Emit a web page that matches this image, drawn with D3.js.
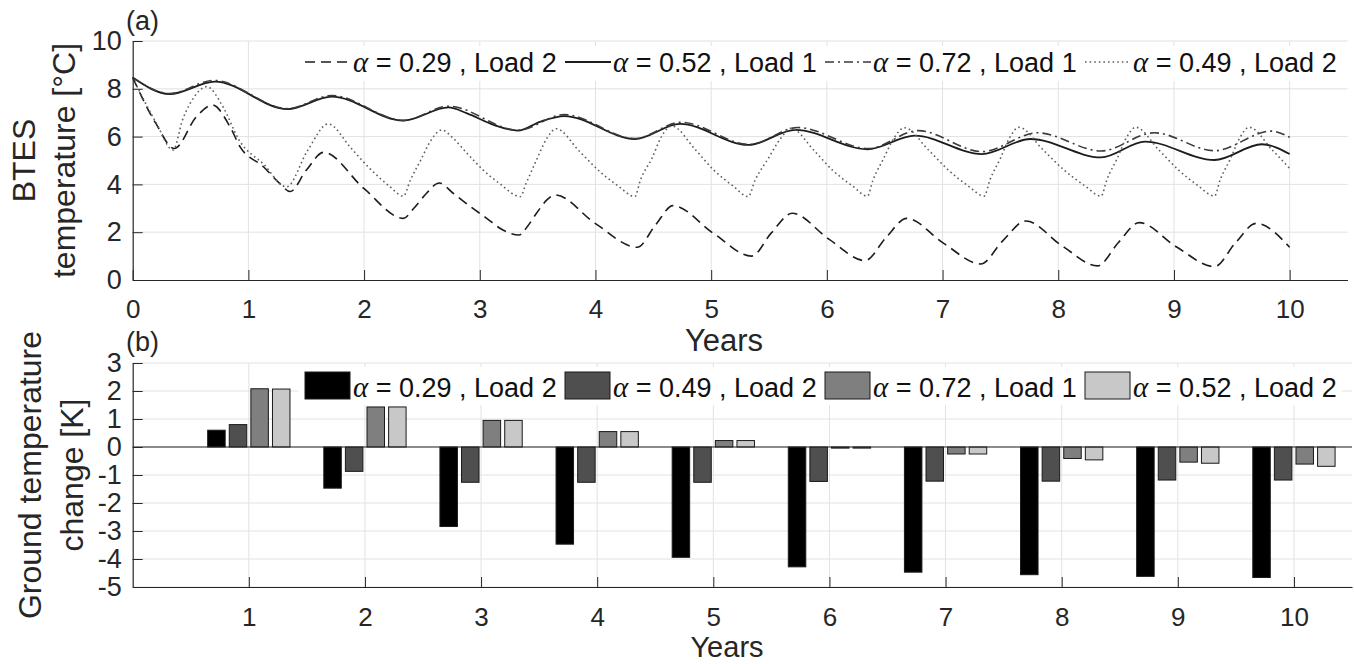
<!DOCTYPE html>
<html>
<head>
<meta charset="utf-8">
<script src="https://cdn.jsdelivr.net/npm/d3@7"></script>
<style>
  html, body { margin: 0; padding: 0; background: #ffffff; }
  svg { display: block; font-family: "Liberation Sans", Arial, sans-serif; }
</style>
</head>
<body>
<svg id="chart" width="1354" height="664"></svg>
<script>
// ---------- Panel (a): BTES temperature over ten years, [year, °C] ----------
const btesAlpha029Load2 = [
  [0, 8.47], [0.2, 6.55], [0.36, 5.5], [0.55, 6.83], [0.69, 7.32],
  [0.84, 6.42], [0.93, 5.56], [1.13, 4.74], [1.27, 4.04], [1.36, 3.7],
  [1.5, 4.59], [1.65, 5.34], [2.0, 3.82], [2.34, 2.58], [2.43, 3.0], [2.54, 3.63],
  [2.65, 4.06], [2.77, 3.63], [2.92, 3.07], [3.06, 2.58], [3.2, 2.09], [3.34, 1.88],
  [3.41, 2.23], [3.49, 2.79], [3.58, 3.35], [3.65, 3.56], [4.0, 2.36], [4.36, 1.37],
  [4.52, 2.31], [4.67, 3.11], [5.02, 1.95], [5.35, 1.0], [5.52, 1.97], [5.7, 2.79],
  [6.02, 1.7], [6.33, 0.81], [6.51, 1.77], [6.69, 2.58], [7.01, 1.53], [7.33, 0.67],
  [7.52, 1.64], [7.72, 2.47], [8.03, 1.44], [8.34, 0.59], [8.52, 1.57], [8.7, 2.4],
  [9.02, 1.39], [9.35, 0.56], [9.53, 1.54], [9.71, 2.37], [10, 1.37]
];
const btesAlpha052Load1 = [
  [0, 8.47], [0.32, 7.78], [0.71, 8.3], [1.34, 7.15], [1.72, 7.67], [2.34, 6.67],
  [2.73, 7.22], [2.89, 6.97], [3.12, 6.49], [3.33, 6.25], [3.52, 6.62], [3.73, 6.86],
  [4.34, 5.9], [4.73, 6.53], [5.32, 5.65], [5.73, 6.28], [6.35, 5.47], [6.76, 6.04],
  [7.34, 5.27], [7.76, 5.9], [8.37, 5.13], [8.75, 5.79], [9.35, 5.02], [9.76, 5.68],
  [10, 5.27]
];
const btesAlpha072Load1 = [
  [0, 8.47], [0.32, 7.8], [0.7, 8.35], [1.34, 7.17], [1.72, 7.72], [2.34, 6.68],
  [2.73, 7.27], [3.33, 6.27], [3.73, 6.92], [4.34, 5.92], [4.74, 6.6], [5.33, 5.67],
  [5.75, 6.38], [6.36, 5.5], [6.79, 6.25], [7.34, 5.37], [7.82, 6.16], [8.37, 5.4],
  [8.83, 6.16], [9.35, 5.41], [9.84, 6.23], [10, 5.97]
];
const btesAlpha049Load2 = [
  [0, 8.47], [0.2, 6.6], [0.35, 5.44], [0.43, 6.69], [0.53, 7.65], [0.64, 8.09],
  [0.78, 7.25], [0.92, 5.85], [1.13, 4.85], [1.33, 3.9], [1.51, 5.4], [1.69, 6.53],
  [1.885, 5.53], [2.05, 4.66], [2.21, 3.96], [2.34, 3.51], [2.4, 4.18], [2.49, 5.02],
  [2.58, 5.86], [2.67, 6.28], [2.77, 5.93], [2.89, 5.3], [3.03, 4.6], [3.17, 4.04],
  [3.35, 3.49], [3.4, 4.04], [3.49, 5.02], [3.58, 5.93], [3.66, 6.33], [3.86, 5.39],
  [4.03, 4.57], [4.2, 3.92], [4.34, 3.49], [4.39, 4.2], [4.49, 5.11], [4.57, 6.0],
  [4.66, 6.44], [4.86, 5.47], [5.02, 4.61], [5.19, 3.93], [5.32, 3.49], [5.38, 4.18],
  [5.49, 5.06], [5.6, 5.92], [5.69, 6.35], [5.89, 5.41], [6.05, 4.59], [6.22, 3.94],
  [6.35, 3.51], [6.4, 4.2], [6.49, 5.08], [6.58, 5.94], [6.67, 6.37], [6.88, 5.43],
  [7.05, 4.6], [7.22, 3.94], [7.36, 3.51], [7.41, 4.2], [7.5, 5.09], [7.58, 5.96],
  [7.66, 6.39], [7.87, 5.44], [8.05, 4.6], [8.23, 3.94], [8.37, 3.51], [8.42, 4.2],
  [8.51, 5.09], [8.59, 5.96], [8.67, 6.39], [8.87, 5.44], [9.04, 4.6], [9.21, 3.94],
  [9.35, 3.51], [9.4, 4.2], [9.49, 5.09], [9.57, 5.96], [9.65, 6.39], [9.85, 5.44],
  [10, 4.67]
];

const lineLabels = ["0.29 , Load 2", "0.52 , Load 1", "0.72 , Load 1", "0.49 , Load 2"];
const yearTicksA = [0, 1, 2, 3, 4, 5, 6, 7, 8, 9, 10];
const tempTicks = [0, 2, 4, 6, 8, 10];

// ---------- Panel (b): ground temperature change per year [K] ----------
const barYears = [1, 2, 3, 4, 5, 6, 7, 8, 9, 10];
const changeAlpha029Load2 = [0.6, -1.47, -2.84, -3.47, -3.94, -4.28, -4.47, -4.56, -4.62, -4.66];
const changeAlpha049Load2 = [0.8, -0.87, -1.26, -1.26, -1.26, -1.23, -1.22, -1.22, -1.18, -1.18];
const changeAlpha072Load1 = [2.08, 1.43, 0.95, 0.55, 0.23, -0.04, -0.25, -0.41, -0.54, -0.61];
const changeAlpha052Load2 = [2.07, 1.43, 0.95, 0.55, 0.23, -0.04, -0.25, -0.46, -0.58, -0.69];
const barLabels = ["0.29 , Load 2", "0.49 , Load 2", "0.72 , Load 1", "0.52 , Load 2"];
const changeTicks = [3, 2, 1, 0, -1, -2, -3, -4, -5];

// ---------- shared styling ----------
const INK = "#262626";
const GRID = "#e2e2e2";
const TICK_FONT = 26;
const LABEL_FONT = 31;
const LEGEND_FONT = 27;

const svg = d3.select("#chart");

function styleAxis(g, size) {
  g.attr("font-family", null).attr("font-size", size).attr("color", INK);
  g.selectAll(".domain").attr("stroke-width", 1.2);
  g.selectAll(".tick line").attr("stroke-width", 1);
}

function legendAlpha(g, x, y, rest) {
  const t = g.append("text").attr("x", x).attr("y", y).attr("fill", "#111");
  t.append("tspan").attr("font-family", "'Liberation Serif', 'DejaVu Serif', serif")
    .attr("font-style", "italic").attr("font-size", 29).text("α");
  t.append("tspan").attr("font-size", LEGEND_FONT).text(" = " + rest);
}

// ================= Panel (a) =================
const xA = d3.scaleLinear().domain([0, 10.5]).range([132.7, 1347.5]);
const yA = d3.scaleLinear().domain([0, 10]).range([280, 41]);

const gridA = svg.append("g");
gridA.selectAll("line.v").data(yearTicksA.slice(1)).join("line")
  .attr("x1", d => xA(d)).attr("x2", d => xA(d))
  .attr("y1", yA(0)).attr("y2", yA(10)).attr("stroke", GRID);
gridA.selectAll("line.h").data(tempTicks.slice(1)).join("line")
  .attr("x1", xA(0)).attr("x2", xA(10.5))
  .attr("y1", d => yA(d)).attr("y2", d => yA(d)).attr("stroke", GRID);

const lineStyles = [
  { data: btesAlpha029Load2, color: "#1c1c1c", width: 1.6, dash: "10,6" },
  { data: btesAlpha052Load1, color: "#1c1c1c", width: 1.8, dash: null },
  { data: btesAlpha072Load1, color: "#3a3a3a", width: 1.6, dash: "9,4,2,4" },
  { data: btesAlpha049Load2, color: "#606060", width: 1.6, dash: "1.6,3" }
];

const lineGen = d3.line()
  .x(d => xA(d[0])).y(d => yA(d[1]))
  .curve(d3.curveMonotoneX);

svg.append("g").selectAll("path").data(lineStyles).join("path")
  .attr("d", s => lineGen(s.data))
  .attr("fill", "none")
  .attr("stroke", s => s.color)
  .attr("stroke-width", s => s.width)
  .attr("stroke-dasharray", s => s.dash);

const axA_x = svg.append("g").attr("transform", `translate(0,${yA(0)})`)
  .call(d3.axisBottom(xA).tickValues(yearTicksA).tickFormat(d3.format("d"))
    .tickSizeInner(-10).tickSizeOuter(0));
styleAxis(axA_x, TICK_FONT);
axA_x.selectAll("text").attr("y", 38).attr("dy", null);

const axA_y = svg.append("g").attr("transform", `translate(${xA(0)},0)`)
  .call(d3.axisLeft(yA).tickValues(tempTicks).tickFormat(d3.format("d"))
    .tickSizeInner(-10).tickSizeOuter(0).tickPadding(11));
styleAxis(axA_y, 27);

// legend (a)
const legA = svg.append("g");
legA.append("rect").attr("x", 298).attr("y", 46).attr("width", 1044).attr("height", 35).attr("fill", "#fff");
lineLabels.forEach((lab, i) => {
  const x0 = 305 + i * 260;
  const s = lineStyles[i];
  legA.append("line").attr("x1", x0).attr("x2", x0 + 46).attr("y1", 62).attr("y2", 62)
    .attr("stroke", s.color).attr("stroke-width", s.width).attr("stroke-dasharray", s.dash);
  legendAlpha(legA, x0 + 48, 72, lab);
});

svg.append("text").attr("x", 126).attr("y", 30).attr("font-size", 27).attr("fill", INK).text("(a)");
svg.append("text").attr("x", 724).attr("y", 351).attr("text-anchor", "middle")
  .attr("font-size", LABEL_FONT).attr("fill", INK).text("Years");
svg.append("text").attr("transform", "translate(35,160.5) rotate(-90)").attr("text-anchor", "middle")
  .attr("font-size", 32).attr("fill", INK).text("BTES");
svg.append("text").attr("transform", "translate(75,160.5) rotate(-90)").attr("text-anchor", "middle")
  .attr("font-size", 32).attr("fill", INK).text("temperature [°C]");

// ================= Panel (b) =================
const xB = d3.scaleLinear().domain([0, 10.5]).range([132.7, 1352]);
const yB = d3.scaleLinear().domain([-5, 3]).range([587, 363]);

const gridB = svg.append("g");
gridB.selectAll("line.v").data(barYears).join("line")
  .attr("x1", d => xB(d)).attr("x2", d => xB(d))
  .attr("y1", yB(-5)).attr("y2", yB(3)).attr("stroke", GRID);
gridB.selectAll("line.h").data(changeTicks).join("line")
  .attr("x1", xB(0)).attr("x2", xB(10.5))
  .attr("y1", d => yB(d)).attr("y2", d => yB(d)).attr("stroke", GRID);

// legend (b) background sits under the bars so the tallest bars stay whole
const legB = svg.append("g");
legB.append("rect").attr("x", 298).attr("y", 367).attr("width", 1044).attr("height", 38).attr("fill", "#fff");

const barSeries = [changeAlpha029Load2, changeAlpha049Load2, changeAlpha072Load1, changeAlpha052Load2];
const barColors = ["#000000", "#4f4f4f", "#7f7f7f", "#c8c8c8"];
const groupHalf = 0.372 * (xB(1) - xB(0));
const xInner = d3.scaleBand().domain(d3.range(barSeries.length))
  .range([-groupHalf, groupHalf]).paddingInner(0.19).paddingOuter(0.095);

const barData = [];
barSeries.forEach((vals, si) => vals.forEach((v, yi) => barData.push({ s: si, year: barYears[yi], v })));

svg.append("g").selectAll("rect").data(barData).join("rect")
  .attr("x", d => xB(d.year) + xInner(d.s))
  .attr("width", xInner.bandwidth())
  .attr("y", d => yB(Math.max(0, d.v)))
  .attr("height", d => Math.abs(yB(d.v) - yB(0)))
  .attr("fill", d => barColors[d.s])
  .attr("stroke", "#1a1a1a").attr("stroke-width", 1);

// zero baseline
svg.append("line").attr("x1", xB(0)).attr("x2", xB(10.5)).attr("y1", yB(0)).attr("y2", yB(0))
  .attr("stroke", INK).attr("stroke-width", 1.2);

const axB_x = svg.append("g").attr("transform", `translate(0,${yB(-5)})`)
  .call(d3.axisBottom(xB).tickValues(barYears).tickFormat(d3.format("d"))
    .tickSizeInner(-10).tickSizeOuter(0));
styleAxis(axB_x, TICK_FONT);
axB_x.selectAll("text").attr("y", 38.5).attr("dy", null);

const axB_y = svg.append("g").attr("transform", `translate(${xB(0)},0)`)
  .call(d3.axisLeft(yB).tickValues(changeTicks).tickFormat(d => d < 0 ? "-" + Math.abs(d) : String(d))
    .tickSizeInner(-10).tickSizeOuter(0).tickPadding(11));
styleAxis(axB_y, 27);

const legItems = svg.append("g");
barLabels.forEach((lab, i) => {
  const x0 = 305 + i * 260;
  legItems.append("rect").attr("x", x0).attr("y", 372).attr("width", 45).attr("height", 27)
    .attr("fill", barColors[i]).attr("stroke", "#1a1a1a").attr("stroke-width", 1);
  legendAlpha(legItems, x0 + 48, 397, lab);
});

svg.append("text").attr("x", 126).attr("y", 351).attr("font-size", 27).attr("fill", INK).text("(b)");
svg.append("text").attr("x", 727).attr("y", 657).attr("text-anchor", "middle")
  .attr("font-size", 29).attr("fill", INK).text("Years");
svg.append("text").attr("transform", "translate(41,475) rotate(-90)").attr("text-anchor", "middle")
  .attr("font-size", 32).attr("fill", INK).text("Ground temperature");
svg.append("text").attr("transform", "translate(83,475) rotate(-90)").attr("text-anchor", "middle")
  .attr("font-size", 32).attr("fill", INK).text("change [K]");
</script>
</body>
</html>
